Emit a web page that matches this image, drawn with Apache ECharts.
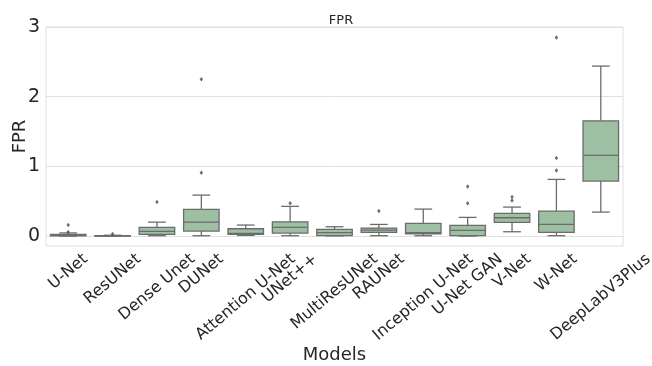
<!DOCTYPE html>
<html><head><meta charset="utf-8">
<script src="https://cdn.jsdelivr.net/npm/echarts@6/dist/echarts.min.js"></script>
<style>html,body{margin:0;padding:0;background:#fff}#c{width:652px;height:366px}</style>
</head><body><div id="c"></div>
<script>
const categories = ['U-Net','ResUNet','Dense Unet','DUNet','Attention U-Net','UNet++','MultiResUNet','RAUNet','Inception U-Net','U-Net GAN','V-Net','W-Net','DeepLabV3Plus'];
// [min whisker, Q1, median, Q3, max whisker]
const boxMin  = [0.000, 0.000, 0.005, 0.005, 0.010, 0.005, 0.004, 0.005, 0.005, 0.000, 0.062, 0.005, 0.344];
const boxQ1   = [0.004, 0.001, 0.025, 0.072, 0.025, 0.043, 0.005, 0.053, 0.033, 0.005, 0.196, 0.053, 0.789];
const boxMed  = [0.012, 0.003, 0.067, 0.200, 0.038, 0.125, 0.048, 0.086, 0.048, 0.081, 0.263, 0.167, 1.158];
const boxQ3   = [0.025, 0.006, 0.125, 0.383, 0.105, 0.205, 0.096, 0.115, 0.182, 0.153, 0.325, 0.359, 1.654];
const boxMax  = [0.045, 0.012, 0.200, 0.588, 0.158, 0.426, 0.134, 0.167, 0.387, 0.268, 0.416, 0.813, 2.439];
// outliers: [category, value]
const outlierCats = ['U-Net','U-Net','ResUNet','Dense Unet','DUNet','DUNet','UNet++','RAUNet','U-Net GAN','U-Net GAN','V-Net','V-Net','W-Net','W-Net','W-Net'];
const outlierVals = [0.06, 0.16, 0.03, 0.49, 0.91, 2.25, 0.47, 0.36, 0.47, 0.71, 0.51, 0.56, 0.94, 1.12, 2.85];
const yTicks = [0, 1, 2, 3];
const titleText = 'FPR';
const xName = 'Models';
const yName = 'FPR';

const FONT = 'DejaVu Sans';
const TXT = '#262626';
const FILL = '#9dbfa2';
const LINE = '#6c6c6c';
const GRIDC = '#e0e0e0';

const boxData = categories.map((c, i) => [i, boxMin[i], boxQ1[i], boxMed[i], boxQ3[i], boxMax[i]]);
const outData = outlierCats.map((c, i) => [categories.indexOf(c), outlierVals[i]]);

// label layout: emulate matplotlib rotated, centered tick labels
const LFS = 16, ANG = 40 * Math.PI / 180, PAD = 4, LH = 18.6;
const cv = document.createElement('canvas').getContext('2d');
cv.font = LFS + 'px "' + FONT + '"';
const catItems = categories.map(c => {
  const w = cv.measureText(c).width;
  const H = w * Math.sin(ANG) + LH * Math.cos(ANG);
  const dy = PAD + H / 2;
  const along = dy * Math.sin(ANG);   // shift toward text start
  const perp = dy * Math.cos(ANG);    // shift perpendicular (down in text frame)
  return { value: c, textStyle: { align: 'center', verticalAlign: 'top', padding: [0, 2 * along, 0, 0],
    fontFamily: FONT, fontSize: LFS, color: TXT, lineHeight: 2 * perp } };
});

const chart = echarts.init(document.getElementById('c'), null, { renderer: 'canvas' });
chart.setOption({
  animation: false,
  backgroundColor: '#ffffff',
  title: { text: titleText, left: 336, top: 9, textAlign: 'center',
    textStyle: { fontFamily: FONT, fontSize: 13, fontWeight: 'normal', color: TXT } },
  grid: { left: 46, right: 29, top: 27, bottom: 120, show: true, borderColor: GRIDC, borderWidth: 1,
    backgroundColor: 'transparent', containLabel: false, outerBoundsMode: 'none' },
  xAxis: {
    type: 'category', data: catItems,
    name: xName, nameLocation: 'middle', nameGap: 100, nameMoveOverlap: false,
    nameTextStyle: { fontFamily: FONT, fontSize: 18, color: TXT },
    axisLine: { show: false }, axisTick: { show: false }, splitLine: { show: false },
    axisLabel: { rotate: 40, align: 'center', verticalAlign: 'top', margin: 0, interval: 0, hideOverlap: false,
      fontFamily: FONT, fontSize: LFS, color: TXT }
  },
  yAxis: {
    type: 'value', min: -0.1425, max: 3.0,
    name: yName, nameLocation: 'middle', nameGap: 17, nameRotate: 90, nameMoveOverlap: false,
    nameTextStyle: { fontFamily: FONT, fontSize: 18, color: TXT },
    axisLine: { show: false },
    axisTick: { show: false, customValues: yTicks },
    axisLabel: { customValues: yTicks, fontFamily: FONT, fontSize: 19, color: TXT, margin: 6 },
    splitLine: { show: true, lineStyle: { color: GRIDC, width: 1 } }
  },
  series: [
    {
      type: 'custom', data: boxData, z: 3,
      encode: { x: 0, y: [1, 2, 3, 4, 5] },
      renderItem: function (params, api) {
        const idx = api.value(0);
        const x = api.coord([idx, 0])[0];
        const bw = api.size([1, 0])[0] * 0.8;
        const y = k => api.coord([idx, api.value(k)])[1];
        const yMin = y(1), yQ1 = y(2), yMed = y(3), yQ3 = y(4), yMax = y(5);
        const ls = { stroke: LINE, lineWidth: 1.3 };
        return { type: 'group', children: [
          { type: 'line', shape: { x1: x, y1: yMin, x2: x, y2: yQ1 }, style: ls },
          { type: 'line', shape: { x1: x, y1: yQ3, x2: x, y2: yMax }, style: ls },
          { type: 'line', shape: { x1: x - bw / 4, y1: yMin, x2: x + bw / 4, y2: yMin }, style: ls },
          { type: 'line', shape: { x1: x - bw / 4, y1: yMax, x2: x + bw / 4, y2: yMax }, style: ls },
          { type: 'rect', shape: { x: x - bw / 2, y: yQ3, width: bw, height: Math.max(yQ1 - yQ3, 0.5) }, style: { fill: FILL, stroke: LINE, lineWidth: 1.3 } },
          { type: 'line', shape: { x1: x - bw / 2, y1: yMed, x2: x + bw / 2, y2: yMed }, style: ls }
        ]};
      }
    },
    {
      type: 'scatter', data: outData, z: 4,
      symbol: 'diamond', symbolSize: [3.5, 4.5],
      itemStyle: { color: '#4a4a4a' }
    }
  ]
});
</script></body></html>
